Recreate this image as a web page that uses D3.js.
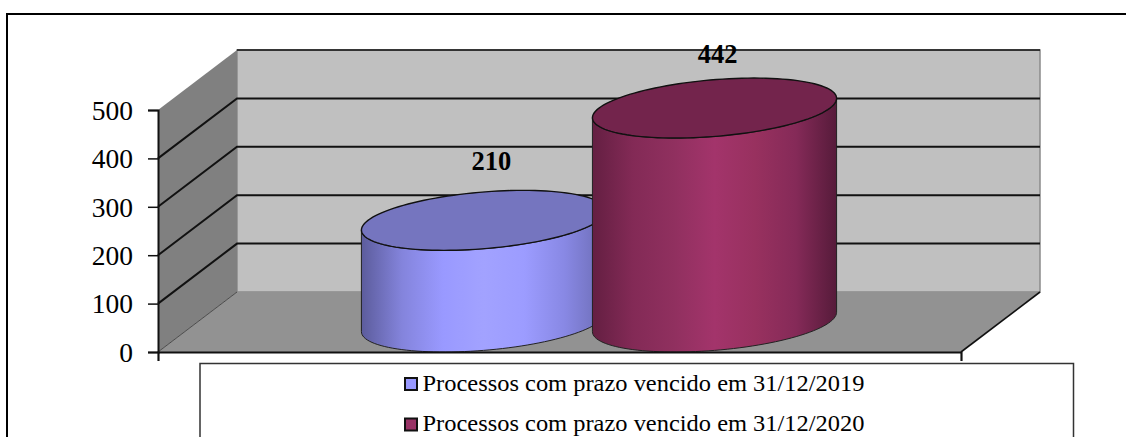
<!DOCTYPE html>
<html lang="pt">
<head>
<meta charset="utf-8">
<style>
  html, body { margin: 0; padding: 0; background: #fff; overflow: hidden; }
  svg { display: block; }
  text { font-family: "Liberation Serif", "Times New Roman", serif; fill: #000; }
</style>
</head>
<body>
<svg id="chart" width="1126" height="437"></svg>
<script src="https://cdn.jsdelivr.net/npm/d3@7/dist/d3.min.js"></script>
<script>
const seriesNames = ["Processos com prazo vencido em 31/12/2019", "Processos com prazo vencido em 31/12/2020"];
const seriesValues = [210, 442];
const yTicks = [0, 100, 200, 300, 400, 500];
const sideColors = [
  ["#5c5c9c", "#8484dc", "#9999ff", "#a2a2ff", "#9c9cff", "#8888e4", "#6c6cb4"],
  ["#641f42", "#832a56", "#90305f", "#a3346b", "#98315f", "#852a58", "#561b3a"]
];
const capColors = ["#7575bf", "#73244c"];
const legendSwatches = ["#9999ff", "#993366"];

const svg = d3.select("#chart");
const width = 1126, height = 437;

// Oblique projection: x along the front edge, y upward, depth runs 0 (front) to 1 (back).
const frontLeft = 158, frontRight = 961, depthDx = 79, depthDy = -60;
const y = d3.scaleLinear().domain([0, 500]).range([352, 110]);
const x = d3.scaleBand().domain(seriesNames).range([frontLeft, frontRight]).paddingInner(0).paddingOuter(0.738);
const project = (px, value, depth) => [px + depth * depthDx, y(value) + depth * depthDy];
const poly = pts => "M" + pts.map(p => p.join(",")).join("L") + "Z";

// Outer frame
svg.append("path").attr("d", `M7,${height}V14H${width}`)
  .attr("fill", "none").attr("stroke", "#000").attr("stroke-width", 2);

// Walls and floor
const yMax = 500;
svg.append("path").attr("fill", "#c0c0c0").attr("stroke", "#8a8a8a").attr("stroke-width", 1.5)
  .attr("d", poly([project(frontLeft, 0, 1), project(frontLeft, yMax, 1), project(frontRight, yMax, 1), project(frontRight, 0, 1)]));
svg.append("path").attr("fill", "#808080")
  .attr("d", poly([project(frontLeft, 0, 0), project(frontLeft, yMax, 0), project(frontLeft, yMax, 1), project(frontLeft, 0, 1)]));
svg.append("path").attr("fill", "#929292")
  .attr("d", poly([project(frontLeft, 0, 0), project(frontLeft, 0, 1), project(frontRight, 0, 1), project(frontRight, 0, 0)]));

// Gridlines run along the side wall, then across the back wall
const gridLine = d3.line();
svg.append("g").selectAll("path").data(yTicks.filter(t => t > 0)).join("path")
  .attr("fill", "none").attr("stroke", "#111").attr("stroke-width", t => t === yMax ? 1.5 : 2)
  .attr("d", t => t === yMax
    ? gridLine([project(frontLeft, t, 1), project(frontRight, t, 1)])
    : gridLine([project(frontLeft, t, 0), project(frontLeft, t, 1), project(frontRight, t, 1)]));
svg.append("path").attr("fill", "none").attr("stroke", "#333").attr("stroke-width", 0.8)
  .attr("d", gridLine([project(frontLeft, 0, 0), project(frontLeft, 0, 1)]));
svg.append("path").attr("fill", "none").attr("stroke", "#111").attr("stroke-width", 1.6)
  .attr("d", gridLine([project(frontRight, 0, 0), project(frontRight, 0, 1)]));

// Cylinders
const defs = svg.append("defs");
const radius = x.bandwidth() / 2;
const depthMid = 0.5;
const steps = d3.range(0, 361, 3).map(d => d * Math.PI / 180);
const rimPoint = (cx, value, t) => {
  const [px, py] = project(cx + radius * Math.cos(t), value, depthMid + depthMid * Math.sin(t));
  return [px, py];
};
// Angles where the rim's screen x is extreme: the cylinder's silhouette edges
const tRight = Math.atan2(depthDx * depthMid, radius);
const tLeft = tRight + Math.PI;

seriesNames.forEach((name, i) => {
  const cx = x(name) + radius;
  const value = seriesValues[i];
  const left = rimPoint(cx, 0, tLeft)[0], right = rimPoint(cx, 0, tRight)[0];

  const grad = defs.append("linearGradient").attr("id", `side${i}`)
    .attr("gradientUnits", "userSpaceOnUse").attr("x1", left).attr("x2", right).attr("y1", 0).attr("y2", 0);
  grad.selectAll("stop").data(sideColors[i]).join("stop")
    .attr("offset", (d, k) => k / (sideColors[i].length - 1)).attr("stop-color", d => d);

  // Side wall: front half of the top rim, then back along the front half of the base rim
  const frontArc = d3.range(0, 61).map(k => tLeft + (tRight + 2 * Math.PI - tLeft) * k / 60);
  const topArc = frontArc.map(t => rimPoint(cx, value, t));
  const baseArc = frontArc.map(t => rimPoint(cx, 0, t)).reverse();
  svg.append("path").attr("d", poly(topArc.concat(baseArc)))
    .attr("fill", `url(#side${i})`).attr("stroke", "#222").attr("stroke-width", 1);

  svg.append("path").attr("d", poly(steps.map(t => rimPoint(cx, value, t))))
    .attr("fill", capColors[i]).attr("stroke", "#111").attr("stroke-width", 1.4);
});

// Value labels sit above each cylinder's far rim
const labelOffsets = [[47.5, -80], [42.5, -75]];
svg.append("g").selectAll("text").data(seriesNames).join("text")
  .attr("x", (d, i) => x(d) + radius + labelOffsets[i][0])
  .attr("y", (d, i) => y(seriesValues[i]) + labelOffsets[i][1])
  .attr("text-anchor", "middle").attr("font-weight", "bold").attr("font-size", 26.5)
  .text((d, i) => seriesValues[i]);

// Value axis on the front-left edge
const yAxis = svg.append("g").attr("transform", `translate(${frontLeft},0)`)
  .call(d3.axisLeft(y).tickValues(yTicks).tickSize(10).tickPadding(15).tickFormat(d3.format("d")));
yAxis.selectAll("text").attr("font-size", 27.5).attr("dy", "0.34em").style("font-family", '"Liberation Serif", serif');
yAxis.selectAll("line").attr("stroke", "#111").attr("stroke-width", 1.5);
yAxis.select(".domain").attr("stroke", "#111").attr("stroke-width", 2);

// Baseline with an end tick at each side
const baseScale = d3.scaleLinear().domain([0, 1]).range([frontLeft, frontRight]);
const xAxis = svg.append("g").attr("transform", `translate(0,${y(0)})`)
  .call(d3.axisBottom(baseScale).tickValues([0, 1]).tickSize(9).tickFormat(""));
xAxis.selectAll("line").attr("stroke", "#111").attr("stroke-width", 1.3);
xAxis.select(".domain").attr("stroke", "#111").attr("stroke-width", 2);

// Legend box, cut off at the lower edge of the frame
const legendLeft = 200, legendRight = 1073.5, legendTop = 363.5;
svg.append("path").attr("d", `M${legendLeft},${height}V${legendTop}H${legendRight}V${height}`)
  .attr("fill", "#fff").attr("stroke", "#333").attr("stroke-width", 1.5);
const legendRows = [384, 424.5];
const legend = svg.append("g").selectAll("g").data(seriesNames).join("g");
legend.append("rect").attr("x", 405).attr("width", 12).attr("height", 12)
  .attr("y", (d, i) => legendRows[i] - 6)
  .attr("fill", (d, i) => legendSwatches[i]).attr("stroke", "#111").attr("stroke-width", 2);
legend.append("text").attr("x", 422.5).attr("y", (d, i) => [391, 430.5][i])
  .attr("font-size", 23.5).attr("textLength", 442).attr("lengthAdjust", "spacingAndGlyphs")
  .text(d => d);
</script>
</body>
</html>
